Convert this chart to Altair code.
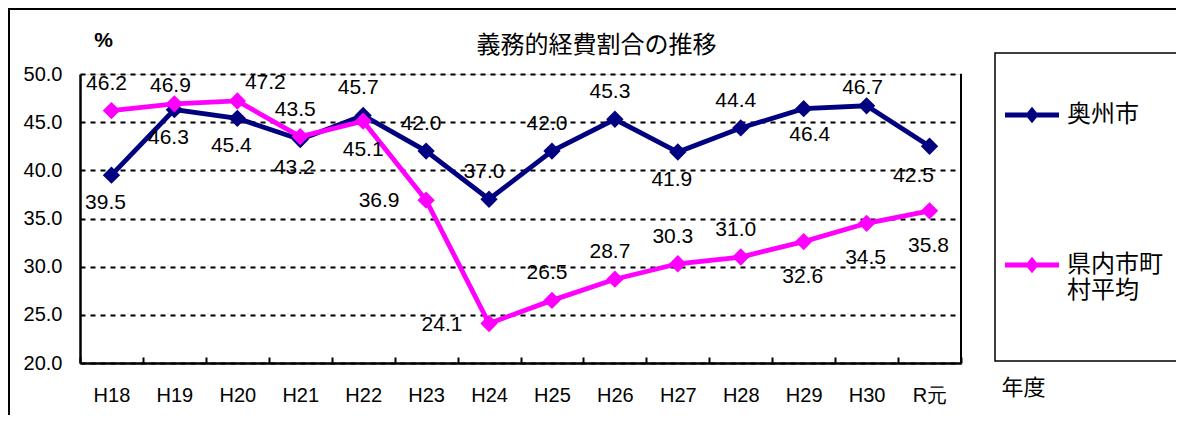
import altair as alt
import pandas as pd

# ---- data ----
years = ["H18", "H19", "H20", "H21", "H22", "H23", "H24", "H25", "H26", "H27", "H28", "H29", "H30", "R元"]
oshu = [39.5, 46.3, 45.4, 43.2, 45.7, 42.0, 37.0, 42.0, 45.3, 41.9, 44.4, 46.4, 46.7, 42.5]
pref = [46.2, 46.9, 47.2, 43.5, 45.1, 36.9, 24.1, 26.5, 28.7, 30.3, 31.0, 32.6, 34.5, 35.8]
series_names = ["奥州市", "県内市町村平均"]
series_colors = ["#000080", "#FF00FF"]
y_ticks = [20, 25, 30, 35, 40, 45, 50]

# where each data label sits relative to its point
oshu_place = ["below", "below", "below", "below", "above", "above", "above",
              "above", "above", "below", "above", "below_r", "above_near", "below_l"]
pref_place = ["above", "above_near", "above_r", "above", "below_c", "left", "left",
              "above", "above", "above", "above", "below_far", "below_far", "below_far"]

rows = []
for s, vals, places in [(series_names[0], oshu, oshu_place), (series_names[1], pref, pref_place)]:
    for yr, v, p in zip(years, vals, places):
        rows.append({"year": yr, "value": v, "series": s, "place": p})
df = pd.DataFrame(rows)

LATIN = "Liberation Sans"
CJK = "Noto Sans CJK JP"

offsets = {
    "above": (-5, -27),
    "above_near": (-4, -18),
    "above_r": (28, -18),
    "below": (-6, 28),
    "below_c": (0, 29),
    "below_r": (6, 26),
    "below_l": (-16, 30),
    "left": (-47, 1),
    "below_far": (-1, 35),
}

color_scale = alt.Scale(domain=series_names, range=series_colors)

x_enc = alt.X(
    "year:N",
    sort=years,
    scale=alt.Scale(domain=years, paddingInner=0, paddingOuter=0),
    axis=alt.Axis(
        title="年度", titleFont=CJK, titleFontSize=22, titleFontWeight="normal",
        titleColor="black", titleX=943, titleY=24, titleAlign="center", titleBaseline="middle",
        labelFont=LATIN, labelFontSize=20, labelColor="black", labelAngle=0, labelPadding=28,
        tickBand="extent", tickSize={"expr": "-6"}, tickColor="black", tickWidth=2,
        domainColor="black", domainWidth=2.5, grid=False,
    ),
)
y_enc = alt.Y(
    "value:Q",
    scale=alt.Scale(domain=[20, 50], nice=False, zero=False),
    axis=alt.Axis(
        values=y_ticks, format=".1f",
        title="%", titleAngle=0, titleX=23, titleY=-34, titleAlign="center", titleBaseline="middle",
        titleFont=LATIN, titleFontSize=21, titleFontWeight="bold", titleColor="black",
        labelFont=LATIN, labelFontSize=20, labelColor="black", labelPadding=18,
        ticks=False, domainColor="black", domainWidth=2.5,
        grid=True, gridColor="black", gridDash=[5, 5], gridWidth=2, gridOpacity=1,
    ),
)

LEG_PATH = ("M-1,-0.093L-0.175,-0.093L0,-0.31L0.175,-0.093L1,-0.093L1,0.093"
            "L0.175,0.093L0,0.31L-0.175,0.093L-1,0.093Z")
legend = alt.Legend(
    title=None, orient="none", legendX=925, legendY=14, direction="vertical",
    symbolType=LEG_PATH, symbolSize=2916, symbolStrokeWidth=0, symbolOpacity=1,
    labelFont=CJK, labelFontSize=24, labelColor="black", labelOffset=8, labelLimit=0,
    rowPadding=111, padding=0,
    labelExpr="datum.label == '県内市町村平均' ? ['県内市町', '村平均'] : datum.label",
)

one = pd.DataFrame({"k": [0]})
frame_top = alt.Chart(one).mark_rule(color="black", strokeWidth=2).encode(
    x=alt.value(-72), x2=alt.value(1104), y=alt.value(-65))
frame_left = alt.Chart(one).mark_rule(color="black", strokeWidth=2).encode(
    x=alt.value(-71), y=alt.value(-66), y2=alt.value(349))
legend_box = alt.Chart(one).mark_rect(filled=False, stroke="black", strokeWidth=1.5).encode(
    x=alt.value(915), x2=alt.value(1097), y=alt.value(-21), y2=alt.value(287))
right_border = alt.Chart(one).mark_rule(color="black", strokeWidth=2).encode(
    x=alt.value(881), y=alt.value(0), y2=alt.value(289))

layers = [frame_top, frame_left, legend_box, right_border]
for name, col in zip(series_names, series_colors):
    base = alt.Chart(df).transform_filter(alt.datum.series == name)
    layers.append(base.mark_line(strokeWidth=4.8, color=col).encode(x=x_enc, y=y_enc))
    layers.append(base.mark_point(shape="diamond", filled=True, size=300, opacity=1).encode(
        x=x_enc, y=y_enc, color=alt.Color("series:N", scale=color_scale, legend=legend)))

used = sorted(set(oshu_place) | set(pref_place))
for code in used:
    dx, dy = offsets[code]
    layers.append(
        alt.Chart(df).transform_filter(alt.datum.place == code).mark_text(
            dx=dx, dy=dy, font=LATIN, fontSize=21, color="black",
            align="center", baseline="middle",
        ).encode(x=x_enc, y=y_enc, text=alt.Text("value:Q", format=".1f"))
    )

chart = alt.layer(*layers).properties(
    width=881, height=289,
    title=alt.TitleParams("義務的経費割合の推移", font=CJK, fontSize=24, fontWeight="normal",
                          color="black", anchor="middle", frame="group", dx=76, dy=55),
    autosize=alt.AutoSizeParams(type="none"),
    padding={"left": 72, "top": 66, "right": 215, "bottom": 52},
).configure_view(stroke=None, fill="#C0C0C0").configure(background="white")

chart.save("out.html", embed_options={"renderer": "svg", "actions": False})
